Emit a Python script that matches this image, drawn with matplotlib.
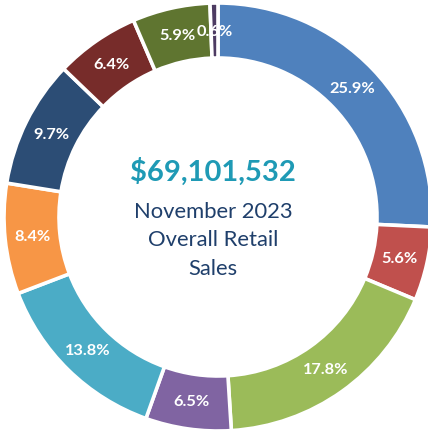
import matplotlib.pyplot as plt

# share of November 2023 retail sales, clockwise from 12 o'clock
shares = [25.9, 5.6, 17.8, 6.5, 13.8, 8.4, 9.7, 6.4, 5.9, 0.6]
labels = ['25.9%', '5.6%', '17.8%', '6.5%', '13.8%', '8.4%', '9.7%', '6.4%', '5.9%', '0.6%']
colors = ['#4F81BD', '#C0504D', '#9BBB59', '#8064A2', '#4BACC6',
          '#F79646', '#2C4D75', '#772C2A', '#5F7530', '#4D3B62']

total_text = '$69,101,532'
title_lines = ['November 2023', 'Overall Retail', 'Sales']

plt.rcParams['font.family'] = ['Lato', 'DejaVu Sans']

fig = plt.figure(figsize=(4.28, 4.35), dpi=100)
ax = fig.add_axes([0, 0, 1, 1])

# work in pixel-like units so the ring lands where it does in the picture
R = 214
wedges, texts = ax.pie(shares, labels=labels, colors=colors, radius=R,
                       startangle=90, counterclock=False, labeldistance=0.87,
                       wedgeprops=dict(width=55, edgecolor='white', linewidth=2.6),
                       textprops=dict(color='white', fontsize=11.8, fontweight='bold',
                                      ha='center', va='center'))

ax.text(-5, 46, total_text, ha='center', va='center', fontsize=21,
        fontweight='bold', color='#1F9AB5')
for i, line in enumerate(title_lines):
    ax.text(-5, 6 - i * 28.5, line, ha='center', va='center', fontsize=15.8,
            color='#1F3F6B')

ax.set_xlim(-218, 210)
ax.set_ylim(-217, 218)
ax.set_aspect('auto')
ax.axis('off')

fig.savefig('out.png', dpi=100)
